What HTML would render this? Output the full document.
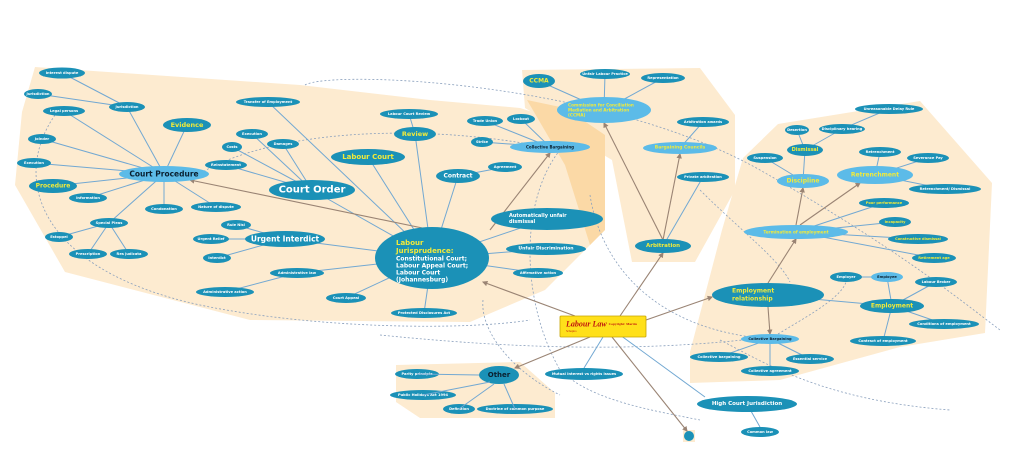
<!DOCTYPE html>
<html><head><meta charset="utf-8"><style>
html,body{margin:0;padding:0;background:#fff;}
svg{display:block;font-family:"DejaVu Sans","Liberation Sans",sans-serif;font-weight:bold;}
.d{fill:#1b91b7;}
.l{fill:#5cbbe8;}
.e{stroke:#72a8d2;stroke-width:1;fill:none;}
.b{stroke:#9a8474;stroke-width:1.1;fill:none;}
.dash{stroke:#8aa0bd;stroke-width:0.8;fill:none;stroke-dasharray:2 2;}
text{text-anchor:middle;dominant-baseline:central;}
.s{font-size:3.6px;fill:#fff;}
.sy{font-size:3.6px;fill:#f2ea3a;}
.sk{font-size:3.6px;fill:#0a2030;}
</style></head><body>
<svg width="1024" height="462" viewBox="0 0 1024 462" xmlns="http://www.w3.org/2000/svg">
<defs><marker id="a" markerWidth="5" markerHeight="5" refX="4" refY="2.5" orient="auto"><path d="M0,0L5,2.5L0,5z" fill="#9a8474"/></marker></defs>
<g fill="#fdebd0">
<polygon points="35,67 300,85 430,100 520,108 605,135 605,230 545,290 470,322 250,320 65,272 15,185 22,112"/>
<polygon points="522,70 700,68 735,115 735,190 695,262 632,262 612,160 525,108"/>
<polygon points="778,124 920,101 992,183 985,333 900,347 780,380 690,383 690,352 722,230 743,158"/>
<polygon points="396,365 520,362 555,393 555,418 420,418 396,402"/>
<rect x="683" y="430" width="12" height="12"/>
</g>
<polygon points="527,100 565,108 605,135 605,230 590,245 565,165" fill="#fbd9a6"/>
<path class="dash" d="M305,85 C330,70 600,80 760,170 C900,250 960,300 1000,330"/>
<path class="dash" d="M55,115 C10,180 40,270 200,305 C320,330 470,330 530,320"/>
<path class="dash" d="M190,180 C260,130 420,120 560,150"/>
<path class="dash" d="M560,150 C520,200 520,300 560,370 C590,400 650,410 700,420"/>
<path class="dash" d="M483,300 C480,330 510,370 560,395"/>
<path class="dash" d="M380,335 C480,345 620,355 760,338"/>
<path class="dash" d="M590,195 C600,260 650,330 770,339 C800,320 840,300 846,282"/>
<path class="dash" d="M700,190 C740,230 780,260 790,282"/>
<path class="dash" d="M720,340 C760,360 820,400 950,410"/>
<g class="e">
<path d="M127,107L62,73M127,107L38,94M164,174L127,107M164,174L64,111M164,174L187,125M164,174L42,139M164,174L34,163M164,174L53,186M164,174L88,198M164,174L164,209M164,174L216,207M164,174L109,223M109,223L59,237M109,223L88,254M109,223L129,254"/>
<path d="M312,190L252,134M312,190L232,147M312,190L283,144M312,190L226,165M432,258L312,190M432,258L268,102M285,239L236,225M285,239L211,239M285,239L217,258M432,258L285,239M432,258L297,273M297,273L225,292M432,258L346,298M432,258L424,313M432,258L368,157M432,258L415,134M415,134L409,114M432,258L458,176M458,176L505,167M550,147L485,121M550,147L521,119M550,147L482,142M432,258L547,219M432,258L546,249M432,258L538,273"/>
<path d="M604,110L539,81M604,110L605,74M604,110L663,78M680,148L703,122M663,246L703,177"/>
<path d="M805,150L797,130M805,150L842,129M842,129L889,109M803,181L765,158M803,181L805,150M875,175L880,152M875,175L928,158M875,175L945,189M796,232L884,203M796,232L895,222M796,232L918,239M796,232L934,258M887,277L846,277M892,306L887,277M892,306L936,282M892,306L944,324M892,306L883,341M768,295L892,306M770,339L719,357M770,339L810,359M770,339L770,371"/>
<path d="M603,337L584,368M620,335L705,397M747,404L760,427"/>
</g>
<g class="b" marker-end="url(#a)">
<path d="M575,316L483,282"/><path d="M432,230L190,180"/><path d="M490,230L550,153"/>
<path d="M620,316L663,253"/><path d="M663,240L604,123"/><path d="M663,240L680,154"/>
<path d="M646,320L712,297"/><path d="M768,283L796,239"/><path d="M796,225L803,188"/><path d="M800,225L860,183"/><path d="M768,307L770,334"/>
<path d="M590,337L515,368"/><path d="M612,337L687,431"/>
</g>
<g>
<ellipse class="d" cx="62" cy="73" rx="23" ry="5.5"/><text class="s" x="62" y="73">Interest dispute</text>
<ellipse class="d" cx="38" cy="94" rx="14" ry="5"/><text class="s" x="38" y="94">Jurisdiction</text>
<ellipse class="d" cx="64" cy="111" rx="21" ry="5"/><text class="s" x="64" y="111">Legal persons</text>
<ellipse class="d" cx="127" cy="107" rx="18" ry="5"/><text class="s" x="127" y="107">Jurisdiction</text>
<ellipse class="d" cx="187" cy="125" rx="24" ry="7"/><text class="sy" style="font-size:6.5px" x="187" y="125">Evidence</text>
<ellipse class="d" cx="42" cy="139" rx="14" ry="5"/><text class="s" x="42" y="139">Joinder</text>
<ellipse class="d" cx="34" cy="163" rx="17" ry="5"/><text class="s" x="34" y="163">Execution</text>
<ellipse class="l" cx="164" cy="174" rx="45" ry="8"/><text class="sk" style="font-size:7.5px" x="164" y="174">Court Procedure</text>
<ellipse class="d" cx="53" cy="186" rx="24" ry="7"/><text class="sy" style="font-size:6px" x="53" y="186">Procedure</text>
<ellipse class="d" cx="88" cy="198" rx="19" ry="5"/><text class="s" x="88" y="198">Information</text>
<ellipse class="d" cx="164" cy="209" rx="19" ry="5"/><text class="s" x="164" y="209">Condonation</text>
<ellipse class="d" cx="216" cy="207" rx="25" ry="5"/><text class="s" x="216" y="207">Nature of dispute</text>
<ellipse class="d" cx="109" cy="223" rx="19" ry="5"/><text class="s" x="109" y="223">Special Pleas</text>
<ellipse class="d" cx="59" cy="237" rx="14" ry="5"/><text class="s" x="59" y="237">Estoppel</text>
<ellipse class="d" cx="88" cy="254" rx="19" ry="5"/><text class="s" x="88" y="254">Prescription</text>
<ellipse class="d" cx="129" cy="254" rx="19" ry="5"/><text class="s" x="129" y="254">Res judicata</text>
<ellipse class="d" cx="268" cy="102" rx="32" ry="5"/><text class="s" x="268" y="102">Transfer of Employment</text>
<ellipse class="d" cx="252" cy="134" rx="16" ry="5"/><text class="s" x="252" y="134">Execution</text>
<ellipse class="d" cx="232" cy="147" rx="10" ry="5"/><text class="s" x="232" y="147">Costs</text>
<ellipse class="d" cx="283" cy="144" rx="16" ry="5"/><text class="s" x="283" y="144">Damages</text>
<ellipse class="d" cx="226" cy="165" rx="21" ry="5"/><text class="s" x="226" y="165">Reinstatement</text>
<ellipse class="d" cx="312" cy="190" rx="43" ry="10"/><text class="s" style="font-size:10px" x="312" y="190">Court Order</text>
<ellipse class="d" cx="236" cy="225" rx="15" ry="5"/><text class="s" x="236" y="225">Rule Nisi</text>
<ellipse class="d" cx="211" cy="239" rx="18" ry="5"/><text class="s" x="211" y="239">Urgent Relief</text>
<ellipse class="d" cx="285" cy="239" rx="40" ry="8"/><text class="s" style="font-size:7.5px" x="285" y="239">Urgent Interdict</text>
<ellipse class="d" cx="217" cy="258" rx="14" ry="5"/><text class="s" x="217" y="258">Interdict</text>
<ellipse class="d" cx="297" cy="273" rx="27" ry="5"/><text class="s" x="297" y="273">Administrative law</text>
<ellipse class="d" cx="225" cy="292" rx="29" ry="5"/><text class="s" x="225" y="292">Administrative action</text>
<ellipse class="d" cx="368" cy="157" rx="37" ry="8"/><text class="sy" style="font-size:7px" x="368" y="157">Labour Court</text>
<ellipse class="d" cx="409" cy="114" rx="29" ry="5"/><text class="s" x="409" y="114">Labour Court Review</text>
<ellipse class="d" cx="415" cy="134" rx="21" ry="7"/><text class="sy" style="font-size:6.5px" x="415" y="134">Review</text>
<ellipse class="d" cx="485" cy="121" rx="18" ry="5"/><text class="s" x="485" y="121">Trade Union</text>
<ellipse class="d" cx="521" cy="119" rx="14" ry="5"/><text class="s" x="521" y="119">Lockout</text>
<ellipse class="d" cx="482" cy="142" rx="11" ry="5"/><text class="s" x="482" y="142">Strike</text>
<ellipse class="l" cx="550" cy="147" rx="40" ry="6"/><text class="sk" style="font-size:4px" x="550" y="147">Collective Bargaining</text>
<ellipse class="d" cx="505" cy="167" rx="17" ry="5"/><text class="s" x="505" y="167">Agreement</text>
<ellipse class="d" cx="458" cy="176" rx="22" ry="7"/><text class="s" style="font-size:6px" x="458" y="176">Contract</text>
<ellipse class="d" cx="432" cy="258" rx="57" ry="31"/>
<text x="396" y="243" style="text-anchor:start;font-size:7px;fill:#f2ea3a">Labour</text>
<text x="396" y="251" style="text-anchor:start;font-size:7px;fill:#f2ea3a">Jurisprudence:</text>
<text x="396" y="259" style="text-anchor:start;font-size:6px;fill:#fff">Constitutional Court;</text>
<text x="396" y="266" style="text-anchor:start;font-size:6px;fill:#fff">Labour Appeal Court;</text>
<text x="396" y="273" style="text-anchor:start;font-size:6px;fill:#fff">Labour Court</text>
<text x="396" y="280" style="text-anchor:start;font-size:6px;fill:#fff">(Johannesburg)</text>
<ellipse class="d" cx="547" cy="219" rx="56" ry="11"/>
<text x="509" y="216" style="text-anchor:start;font-size:5px;fill:#fff">Automatically unfair</text>
<text x="509" y="222" style="text-anchor:start;font-size:5px;fill:#fff">dismissal</text>
<ellipse class="d" cx="546" cy="249" rx="40" ry="6"/><text class="s" style="font-size:4.6px" x="546" y="249">Unfair Discrimination</text>
<ellipse class="d" cx="538" cy="273" rx="25" ry="5"/><text class="s" x="538" y="273">Affirmative action</text>
<ellipse class="d" cx="346" cy="298" rx="20" ry="5"/><text class="s" x="346" y="298">Court Appeal</text>
<ellipse class="d" cx="424" cy="313" rx="33" ry="5"/><text class="s" x="424" y="313">Protected Disclosures Act</text>
<ellipse class="d" cx="539" cy="81" rx="16" ry="7"/><text class="sy" style="font-size:6px" x="539" y="81">CCMA</text>
<ellipse class="d" cx="605" cy="74" rx="25" ry="5"/><text class="s" x="605" y="74">Unfair Labour Practice</text>
<ellipse class="d" cx="663" cy="78" rx="22" ry="5"/><text class="s" x="663" y="78">Representation</text>
<ellipse class="l" cx="604" cy="110" rx="47" ry="13"/>
<text x="568" y="105" style="text-anchor:start;font-size:4.2px;fill:#f2ea3a">Commission for Conciliation</text>
<text x="568" y="110" style="text-anchor:start;font-size:4.2px;fill:#f2ea3a">Mediation and Arbitration</text>
<text x="568" y="115" style="text-anchor:start;font-size:4.2px;fill:#f2ea3a">(CCMA)</text>
<ellipse class="d" cx="703" cy="122" rx="26" ry="5"/><text class="s" x="703" y="122">Arbitration awards</text>
<ellipse class="l" cx="680" cy="148" rx="37" ry="6"/><text class="sy" style="font-size:4.5px" x="680" y="148">Bargaining Councils</text>
<ellipse class="d" cx="703" cy="177" rx="26" ry="5"/><text class="s" x="703" y="177">Private arbitration</text>
<ellipse class="d" cx="663" cy="246" rx="28" ry="7"/><text class="sy" style="font-size:5.5px" x="663" y="246">Arbitration</text>
<ellipse class="d" cx="889" cy="109" rx="34" ry="5"/><text class="s" x="889" y="109">Unreasonable Delay Rule</text>
<ellipse class="d" cx="797" cy="130" rx="12" ry="5"/><text class="s" x="797" y="130">Desertion</text>
<ellipse class="d" cx="842" cy="129" rx="23" ry="5"/><text class="s" x="842" y="129">Disciplinary hearing</text>
<ellipse class="d" cx="805" cy="150" rx="18" ry="6"/><text class="sy" style="font-size:5px" x="805" y="150">Dismissal</text>
<ellipse class="d" cx="765" cy="158" rx="18" ry="5"/><text class="s" x="765" y="158">Suspension</text>
<ellipse class="d" cx="880" cy="152" rx="21" ry="5"/><text class="s" x="880" y="152">Retrenchment</text>
<ellipse class="d" cx="928" cy="158" rx="21" ry="5"/><text class="s" x="928" y="158">Severance Pay</text>
<ellipse class="l" cx="875" cy="175" rx="38" ry="9"/><text class="sy" style="font-size:6px" x="875" y="175">Retrenchment</text>
<ellipse class="l" cx="803" cy="181" rx="26" ry="7"/><text class="sy" style="font-size:6px" x="803" y="181">Discipline</text>
<ellipse class="d" cx="945" cy="189" rx="36" ry="5"/><text class="s" x="945" y="189">Retrenchment/ Dismissal</text>
<ellipse class="d" cx="884" cy="203" rx="25" ry="5"/><text class="sy" x="884" y="203">Poor performance</text>
<ellipse class="d" cx="895" cy="222" rx="16" ry="5"/><text class="sy" x="895" y="222">Incapacity</text>
<ellipse class="d" cx="918" cy="239" rx="30" ry="5"/><text class="sy" x="918" y="239">Constructive dismissal</text>
<ellipse class="l" cx="796" cy="232" rx="52" ry="7"/><text class="sy" style="font-size:4.2px" x="796" y="232">Termination of employment</text>
<ellipse class="d" cx="934" cy="258" rx="22" ry="5"/><text class="sy" x="934" y="258">Retirement age</text>
<ellipse class="d" cx="846" cy="277" rx="16" ry="5"/><text class="s" x="846" y="277">Employer</text>
<ellipse class="l" cx="887" cy="277" rx="16" ry="5"/><text class="sk" x="887" y="277">Employee</text>
<ellipse class="d" cx="936" cy="282" rx="21" ry="5"/><text class="s" x="936" y="282">Labour Broker</text>
<ellipse class="d" cx="768" cy="295" rx="56" ry="12"/>
<text x="732" y="291" style="text-anchor:start;font-size:6px;fill:#f2ea3a">Employment</text>
<text x="732" y="299" style="text-anchor:start;font-size:6px;fill:#f2ea3a">relationship</text>
<ellipse class="d" cx="892" cy="306" rx="32" ry="7"/><text class="sy" style="font-size:6px" x="892" y="306">Employment</text>
<ellipse class="d" cx="944" cy="324" rx="35" ry="5"/><text class="s" x="944" y="324">Conditions of employment</text>
<ellipse class="d" cx="883" cy="341" rx="33" ry="5"/><text class="s" x="883" y="341">Contract of employment</text>
<ellipse class="l" cx="770" cy="339" rx="29" ry="5"/><text class="sk" x="770" y="339">Collective Bargaining</text>
<ellipse class="d" cx="719" cy="357" rx="29" ry="5"/><text class="s" x="719" y="357">Collective bargaining</text>
<ellipse class="d" cx="810" cy="359" rx="24" ry="5"/><text class="s" x="810" y="359">Essential service</text>
<ellipse class="d" cx="770" cy="371" rx="29" ry="5"/><text class="s" x="770" y="371">Collective agreement</text>
<ellipse class="d" cx="584" cy="374" rx="39" ry="6"/><text class="s" x="584" y="374">Mutual Interest vs rights issues</text>
<ellipse class="d" cx="499" cy="375" rx="20" ry="9"/><text class="sk" style="font-size:7px" x="499" y="375">Other</text>
<ellipse class="d" cx="417" cy="374" rx="22" ry="5"/><text class="s" x="417" y="374">Parity principle</text>
<ellipse class="d" cx="423" cy="395" rx="33" ry="5"/><text class="s" x="423" y="395">Public Holidays Act 1994</text>
<ellipse class="d" cx="459" cy="409" rx="16" ry="5"/><text class="s" x="459" y="409">Definition</text>
<ellipse class="d" cx="515" cy="409" rx="38" ry="5"/><text class="s" x="515" y="409">Doctrine of common purpose</text>
<ellipse class="d" cx="747" cy="404" rx="50" ry="8"/><text class="s" style="font-size:5.5px" x="747" y="404">High Court Jurisdiction</text>
<ellipse class="d" cx="760" cy="432" rx="19" ry="5"/><text class="s" x="760" y="432">Common law</text>
<circle class="d" cx="689" cy="436" r="5"/>
<g class="e"><path d="M417,374L479,375M423,395L490,382M459,409L494,384M515,409L504,384"/></g>
<rect x="560" y="316" width="86" height="21" fill="#ffe01a" stroke="#c8a400" stroke-width="0.8" rx="1"/>
<text x="566" y="324" style="text-anchor:start;font-family:'Liberation Serif',serif;font-style:italic;font-size:8px;fill:#c0140e">Labour Law <tspan style="font-size:3.5px;font-style:normal">Copyright: Martin</tspan></text>
<text x="566" y="331" style="text-anchor:start;font-family:'Liberation Serif',serif;font-size:3px;fill:#c0140e;font-weight:normal">Schapiro</text>
</g>
</svg>
</body></html>
